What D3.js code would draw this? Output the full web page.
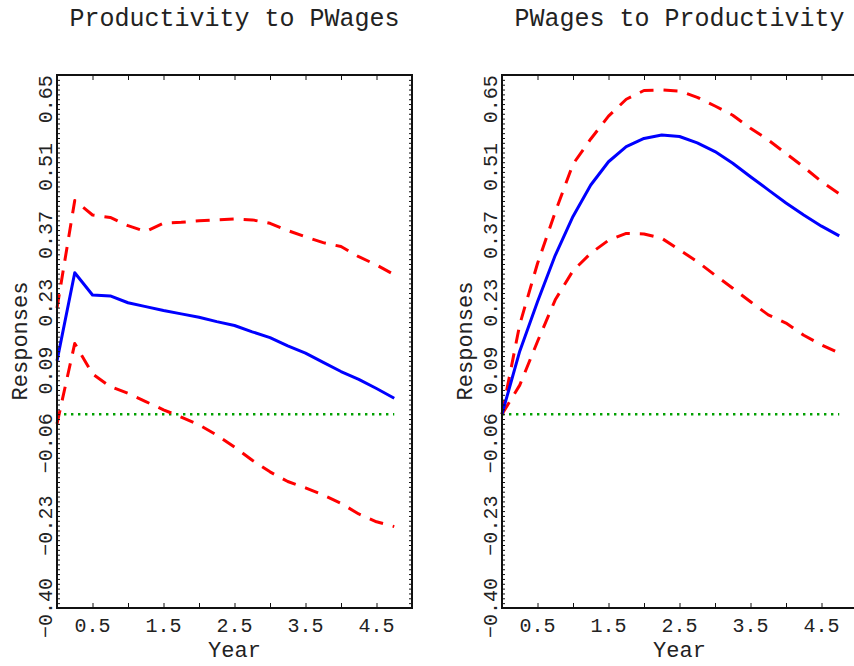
<!DOCTYPE html>
<html><head><meta charset="utf-8">
<script src="https://cdn.jsdelivr.net/npm/d3@7"></script>
<style>body{margin:0;background:#fff;overflow:hidden}</style></head>
<body><svg id="c" width="854" height="666"></svg>
<script>
const years = [0,0.25,0.5,0.75,1.0,1.25,1.5,1.75,2.0,2.25,2.5,2.75,3.0,3.25,3.5,3.75,4.0,4.25,4.5,4.75];
const titles = ["Productivity to PWages","PWages to Productivity"];
const p2wMid = [0.11,0.292,0.246,0.244,0.230,0.222,0.214,0.207,0.200,0.191,0.183,0.170,0.158,0.141,0.126,0.107,0.088,0.072,0.053,0.033];
const p2wHi  = [0.219,0.441,0.411,0.406,0.389,0.377,0.394,0.396,0.399,0.401,0.403,0.401,0.394,0.379,0.366,0.354,0.346,0.325,0.308,0.288];
const p2wLo  = [-0.02,0.146,0.083,0.057,0.043,0.026,0.009,-0.006,-0.022,-0.043,-0.068,-0.095,-0.119,-0.139,-0.152,-0.167,-0.184,-0.206,-0.222,-0.232];
const w2pMid = [0.0,0.13,0.232,0.328,0.408,0.473,0.521,0.552,0.569,0.576,0.573,0.560,0.542,0.518,0.490,0.463,0.436,0.411,0.388,0.368];
const w2pHi  = [0.0,0.185,0.311,0.417,0.516,0.568,0.615,0.650,0.668,0.669,0.667,0.654,0.636,0.617,0.590,0.566,0.538,0.510,0.480,0.455];
const w2pLo  = [0.0,0.060,0.150,0.236,0.296,0.332,0.359,0.373,0.372,0.363,0.339,0.315,0.287,0.260,0.232,0.205,0.188,0.163,0.143,0.126];
const yTickVals = [-0.40,-0.23,-0.06,0.09,0.23,0.37,0.51,0.65];
const yTickLabels = ["\u22120.40","\u22120.23","\u22120.06","0.09","0.23","0.37","0.51","0.65"];
const xTickVals = [0.5,1.5,2.5,3.5,4.5];
const xTickLabels = ["0.5","1.5","2.5","3.5","4.5"];
const zeroLine = [0, 4.75];

const svg = d3.select("#c");
const FONT = "'Liberation Mono', 'DejaVu Sans Mono', monospace";
const y = d3.scaleLinear().domain([-0.40, 0.70]).range([608, 75]);
const yMinor = d3.range(-40, 71).map(i => i / 100);
const xMajor = d3.range(0, 11).map(i => i / 2);

function panel(left, title, mid, lo, hi) {
  const x = d3.scaleLinear().domain([0, 5]).range([left, left + 355]);
  const g = svg.append("g");
  const line = d3.line().x((d, i) => x(years[i])).y(d => y(d));

  // zero reference
  g.append("line")
    .attr("x1", x(zeroLine[0])).attr("x2", x(zeroLine[1]))
    .attr("y1", y(0)).attr("y2", y(0))
    .attr("stroke", "#00a000").attr("stroke-width", 2.6)
    .attr("stroke-dasharray", "2.4,4.6");

  [hi, lo].forEach(s => g.append("path").datum(s).attr("d", line)
    .attr("fill", "none").attr("stroke", "#ff0000").attr("stroke-width", 3)
    .attr("stroke-dasharray", "14,10").attr("stroke-linejoin", "round"));
  g.append("path").datum(mid).attr("d", line)
    .attr("fill", "none").attr("stroke", "#0000ff").attr("stroke-width", 3)
    .attr("stroke-linejoin", "round");

  // ticks
  const ax = g.append("g").attr("color", "#111");
  ax.append("g").attr("transform", `translate(${x(0)},0)`)
    .call(d3.axisLeft(y).tickValues(yMinor).tickSizeInner(-3).tickSizeOuter(0).tickFormat(""))
    .call(s => s.select(".domain").remove());
  ax.append("g").attr("transform", `translate(${x(5)},0)`)
    .call(d3.axisRight(y).tickValues(yMinor).tickSizeInner(-3).tickSizeOuter(0).tickFormat(""))
    .call(s => s.select(".domain").remove());
  ax.append("g").attr("transform", `translate(0,${y.range()[0]})`)
    .call(d3.axisBottom(x).tickValues(xMajor).tickSizeInner(-5).tickSizeOuter(0).tickFormat(""))
    .call(s => s.select(".domain").remove());
  ax.append("g").attr("transform", `translate(0,${y.range()[1]})`)
    .call(d3.axisTop(x).tickValues(xMajor).tickSizeInner(-5).tickSizeOuter(0).tickFormat(""))
    .call(s => s.select(".domain").remove());

  // frame
  g.append("rect").attr("x", x(0)).attr("y", y(0.70))
    .attr("width", x(5) - x(0)).attr("height", y(-0.40) - y(0.70))
    .attr("fill", "none").attr("stroke", "#111").attr("stroke-width", 2);

  // labels
  yTickVals.forEach((v, i) => {
    g.append("text").attr("transform", `translate(${x(0) - 5},${y(v)}) rotate(-90)`)
      .attr("text-anchor", "middle").attr("font-family", FONT).attr("font-size", 20)
      .attr("fill", "#222").text(yTickLabels[i]);
  });
  xTickVals.forEach((v, i) => {
    g.append("text").attr("x", x(v)).attr("y", 632)
      .attr("text-anchor", "middle").attr("font-family", FONT).attr("font-size", 20)
      .attr("fill", "#222").text(xTickLabels[i]);
  });
  g.append("text").attr("x", x(2.5)).attr("y", 657)
    .attr("text-anchor", "middle").attr("font-family", FONT).attr("font-size", 22)
    .attr("fill", "#222").text("Year");
  g.append("text").attr("transform", `translate(${x(0) - 30},341) rotate(-90)`)
    .attr("text-anchor", "middle").attr("font-family", FONT).attr("font-size", 22)
    .attr("fill", "#222").text("Responses");
  g.append("text").attr("x", x(2.5)).attr("y", 26)
    .attr("text-anchor", "middle").attr("font-family", FONT).attr("font-size", 25)
    .attr("fill", "#222").text(title);
}

panel(57, titles[0], p2wMid, p2wLo, p2wHi);
panel(502, titles[1], w2pMid, w2pLo, w2pHi);
</script>
</body></html>
